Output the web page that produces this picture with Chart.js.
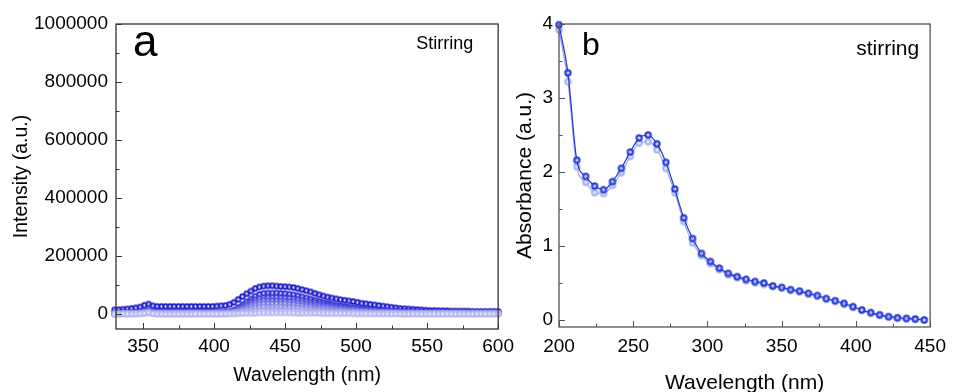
<!DOCTYPE html>
<html>
<head>
<meta charset="utf-8">
<script src="https://cdn.jsdelivr.net/npm/chart.js@4.4.0/dist/chart.umd.min.js"></script>
<style>
    html, body { margin: 0; padding: 0; background: #fff; }
    body { width: 954px; height: 392px; position: relative; overflow: hidden; }
    #chartA { position: absolute; left: 0; top: 0; }
    #chartB { position: absolute; left: 500px; top: 0; }
</style>
</head>
<body>
<canvas id="chartA" width="520" height="392"></canvas>
<canvas id="chartB" width="454" height="400"></canvas>
<script>
// ---- panel a: emission spectra while stirring (intensity in thousands) ----
const wavelengthA = [
    330,333,336,339,342,345,348,351,354,357,
    360,363,366,369,372,375,378,381,384,387,
    390,393,396,399,402,405,408,411,414,417,
    420,423,426,429,432,435,438,441,444,447,
    450,453,456,459,462,465,468,471,474,477,
    480,483,486,489,492,495,498,501,504,507,
    510,513,516,519,522,525,528,531,534,537,
    540,543,546,549,552,555,558,561,564,567,
    570,573,576,579,582,585,588,591,594,597,
    600
];
const INTENSITY_UNIT = 1000;
const intensity1 = [
    14,15,16,17,19,21,24,30,34,28,
    26,26,26,26,26,26,26,26,26,26,
    26,26,26,26,27,28,29,33,40,50,
    60,70,79,88,93,96,97,97,96,95,
    94,93,91,88,84,80,76,71,66,62,
    58,55,52,49,47,45,43,40,37,35,
    33,31,29,27,25,23,21,19,18,17,
    16,15,14,13,12,12,11,11,11,10,
    10,10,10,10,9,9,9,9,9,9,
    9
];
const intensity2 = [
    3,3,4,4,5,5,6,9,11,7,
    5,5,5,5,5,5,5,5,5,5,
    5,5,5,5,5,5,6,8,13,22,
    32,42,52,61,67,71,72,72,72,71,
    70,68,66,63,59,55,51,47,43,39,
    36,33,30,28,26,24,22,20,18,16,
    15,14,13,12,11,10,9,9,8,8,
    7,7,7,6,6,6,6,6,6,5,
    5,5,5,5,5,5,5,5,5,5,
    5
];
const intensity3 = [
    2,2,3,3,4,4,5,7,9,6,
    4,4,4,4,4,4,4,4,4,4,
    4,4,4,4,4,4,5,7,11,18,
    26,34,42,49,54,56,57,57,57,56,
    55,54,52,50,47,44,41,38,35,32,
    29,27,25,23,21,19,18,16,15,13,
    12,11,10,10,9,8,8,7,7,6,
    6,6,5,5,5,5,5,5,4,4,
    4,4,4,4,4,4,4,4,4,4,
    4
];
const intensity4 = [
    2,2,2,3,3,3,4,6,8,5,
    3,3,3,3,3,3,3,3,3,3,
    3,3,3,3,3,3,4,6,9,15,
    21,28,34,40,44,46,46,46,46,45,
    44,43,42,40,38,35,33,30,28,26,
    24,22,20,18,17,16,14,13,12,11,
    10,9,8,8,7,7,6,6,5,5,
    5,5,4,4,4,4,4,4,3,3,
    3,3,3,3,3,3,3,3,3,3,
    3
];
const intensity5 = [
    1,1,2,2,2,3,3,5,7,4,
    2,2,2,2,2,2,2,2,2,2,
    2,2,2,2,2,2,3,5,7,12,
    17,22,27,31,34,36,36,36,36,35,
    35,34,33,31,29,27,25,23,21,20,
    18,17,15,14,13,12,11,10,9,8,
    7,7,6,6,5,5,5,4,4,4,
    4,3,3,3,3,3,3,3,3,3,
    3,3,2,2,2,2,2,2,2,2,
    2
];
const intensity6 = [
    1,1,1,1,2,2,2,4,6,3,
    1,1,1,1,1,1,1,1,1,1,
    1,1,1,1,1,1,2,3,5,8,
    11,15,18,21,23,24,24,24,24,24,
    23,23,22,21,19,18,17,15,14,13,
    12,11,10,9,8,8,7,6,6,5,
    5,4,4,4,3,3,3,3,2,2,
    2,2,2,2,2,2,2,2,2,2,
    2,2,2,2,2,2,2,2,2,2,
    2
];
const intensity7 = [
    0,0,1,1,1,1,2,3,5,2,
    1,1,1,1,1,1,1,1,1,1,
    1,1,1,1,1,1,1,2,3,4,
    6,8,9,11,12,12,12,12,12,12,
    12,11,11,10,10,9,8,8,7,6,
    6,5,5,4,4,4,3,3,3,3,
    2,2,2,2,2,2,2,1,1,1,
    1,1,1,1,1,1,1,1,1,1,
    1,1,1,1,1,1,1,1,1,1,
    1
];
const intensity8 = [
    -1,-1,0,0,0,0,1,2,4,1,
    0,0,0,0,0,0,0,0,0,0,
    0,0,0,0,0,0,0,0,0,1,
    1,2,2,2,3,3,3,3,3,3,
    3,3,3,2,2,2,2,2,2,1,
    1,1,1,1,1,1,1,0,0,0,
    0,0,0,0,0,0,0,0,0,0,
    0,0,0,0,0,0,0,0,0,0,
    0,0,0,0,0,0,0,0,0,0,
    0
];
const intensitySeries = [intensity1, intensity2, intensity3, intensity4,
                         intensity5, intensity6, intensity7, intensity8];
const seriesColorsA = ['#2020cc', '#3030d3', '#4444d9', '#5a5ade',
                       '#7272e3', '#8c8ce8', '#a4a4ed', '#b9b9f2'];
const xTicksA = [350, 400, 450, 500, 550, 600];
const yTicksA = [0, 200000, 400000, 600000, 800000, 1000000];

// ---- panel b: absorbance while stirring ----
const wavelengthB = [
    200,206,212,218,224,230,236,242,248,254,260,266,272,278,284,290,296,
    302,308,314,320,326,332,338,344,350,356,362,368,374,380,386,392,398,
    404,410,416,422,428,434,440,446
];
const absorbanceDark = [
    3.99,3.34,2.16,1.94,1.81,1.76,1.87,2.05,2.27,2.46,2.50,2.38,2.13,1.77,1.38,1.10,0.90,
    0.79,0.70,0.63,0.585,0.55,0.52,0.50,0.46,0.44,0.41,0.39,0.36,0.33,0.29,0.26,0.225,0.18,
    0.135,0.10,0.07,0.045,0.03,0.02,0.013,0.0
];
const absorbanceLight = [
    3.92,3.22,2.07,1.86,1.72,1.71,1.82,1.99,2.21,2.39,2.41,2.30,2.05,1.72,1.33,1.04,0.87,
    0.76,0.68,0.61,0.57,0.53,0.50,0.48,0.45,0.43,0.40,0.38,0.35,0.32,0.28,0.25,0.21,0.17,
    0.13,0.09,0.06,0.04,0.025,0.015,0.01,0.0
];
const xTicksB = [200, 250, 300, 350, 400, 450];
const yTicksB = [0, 1, 2, 3, 4];

const FONT = "'Liberation Sans', Arial, sans-serif";
Chart.defaults.font.family = FONT;
Chart.defaults.color = '#000';

// shaded marker: coloured disc with a small white highlight in the middle
function dotImage(color, r) {
    const c = document.createElement('canvas');
    const s = Math.ceil(r * 2 + 2);
    c.width = s; c.height = s;
    const g = c.getContext('2d');
    const grad = g.createRadialGradient(s / 2, s / 2, 0, s / 2, s / 2, r);
    grad.addColorStop(0, 'rgba(255,255,255,0.95)');
    grad.addColorStop(0.22, 'rgba(255,255,255,0.6)');
    grad.addColorStop(0.5, color);
    grad.addColorStop(1, color);
    g.fillStyle = grad;
    g.beginPath();
    g.arc(s / 2, s / 2, r, 0, Math.PI * 2);
    g.fill();
    return c;
}

function fixedTicks(values) {
    return scale => { scale.ticks = values.map(v => ({ value: v })); };
}

// frame, inward ticks (major + minor) and the panel captions
const boxAndTicks = {
    id: 'boxAndTicks',
    afterDraw(chart, args, opts) {
        const ctx = chart.ctx;
        const area = chart.chartArea;
        const xs = chart.scales.x, ys = chart.scales.y;
        ctx.save();
        ctx.strokeStyle = opts.color;
        ctx.lineWidth = 1.3;
        ctx.strokeRect(area.left, area.top, area.right - area.left, area.bottom - area.top);
        ctx.lineWidth = 1;

        for (let k = Math.ceil(xs.min / opts.xMinor); k * opts.xMinor <= xs.max + 1e-9; k++) {
            const px = Math.round(xs.getPixelForValue(k * opts.xMinor)) + 0.5;
            const len = k % 2 === 0 ? 6 : 3.5;
            ctx.beginPath();
            ctx.moveTo(px, area.bottom);
            ctx.lineTo(px, area.bottom - len);
            ctx.stroke();
        }
        for (let k = Math.ceil(ys.min / opts.yMinor); k * opts.yMinor <= ys.max + 1e-9; k++) {
            const py = Math.round(ys.getPixelForValue(k * opts.yMinor)) + 0.5;
            const len = k % 2 === 0 ? 6 : 3.5;
            ctx.beginPath();
            ctx.moveTo(area.left, py);
            ctx.lineTo(area.left + len, py);
            ctx.stroke();
        }

        ctx.fillStyle = '#000';
        ctx.textBaseline = 'alphabetic';
        ctx.font = opts.letterFont;
        ctx.textAlign = 'left';
        ctx.fillText(opts.letter, area.left + opts.letterDx, area.top + opts.letterDy);
        ctx.font = opts.noteFont;
        ctx.textAlign = 'right';
        ctx.fillText(opts.note, area.right - opts.noteDx, area.top + opts.noteDy);
        ctx.restore();
    }
};

// ---- chart a ----  (light spectra drawn on top of the dark ones)
const datasetsA = intensitySeries.map((vals, i) => ({
    data: wavelengthA.map((w, j) => ({ x: w, y: vals[j] * INTENSITY_UNIT })),
    borderColor: seriesColorsA[i],
    borderWidth: 1.2,
    pointStyle: dotImage(seriesColorsA[i], 3.2),
    pointRadius: 3.3,
    order: intensitySeries.length - i,
    clip: false
}));

new Chart(document.getElementById('chartA'), {
    type: 'line',
    data: { datasets: datasetsA },
    options: {
        responsive: false,
        animation: false,
        layout: { padding: { top: 24, right: 20, left: 0, bottom: 0 } },
        plugins: {
            legend: { display: false },
            tooltip: { enabled: false },
            boxAndTicks: {
                color: '#333', xMinor: 25, yMinor: 100000,
                letter: 'a', letterFont: '44px ' + FONT, letterDx: 17, letterDy: 32,
                note: 'Stirring', noteFont: '18px ' + FONT, noteDx: 25, noteDy: 25
            }
        },
        scales: {
            x: {
                type: 'linear', min: 331, max: 600,
                grid: { display: false, drawTicks: false },
                border: { display: false },
                afterBuildTicks: fixedTicks(xTicksA),
                ticks: { padding: 6, font: { size: 19 }, callback: v => String(v) },
                title: { display: true, text: 'Wavelength (nm)', font: { size: 19.5 },
                         padding: { top: 0, bottom: 4.3 } },
                afterFit: s => { s.height = 63; }
            },
            y: {
                type: 'linear', min: -52000, max: 1000000,
                grid: { display: false, drawTicks: false },
                border: { display: false },
                afterBuildTicks: fixedTicks(yTicksA),
                ticks: { padding: 8, font: { size: 19 }, callback: v => String(v) },
                title: { display: true, text: 'Intensity (a.u.)', font: { size: 19.5 },
                         padding: { top: 10.3, bottom: 0 } },
                afterFit: s => { s.width = 116; }
            }
        }
    },
    plugins: [boxAndTicks]
});

// ---- chart b ----
new Chart(document.getElementById('chartB'), {
    type: 'line',
    data: {
        datasets: [
            {
                data: wavelengthB.map((w, j) => ({ x: w, y: absorbanceDark[j] })),
                borderColor: '#1f2fd6',
                borderWidth: 1.2,
                pointStyle: dotImage('#2a3fda', 3.7),
                pointRadius: 4,
                cubicInterpolationMode: 'monotone',
                clip: false
            },
            {
                data: wavelengthB.map((w, j) => ({ x: w, y: absorbanceLight[j] })),
                borderColor: '#93a2ee',
                borderWidth: 1.1,
                pointStyle: dotImage('#a6b3f2', 3.7),
                pointRadius: 4,
                cubicInterpolationMode: 'monotone',
                clip: false
            }
        ]
    },
    options: {
        responsive: false,
        animation: false,
        layout: { padding: { top: 24, right: 20, left: 0, bottom: 0 } },
        plugins: {
            legend: { display: false },
            tooltip: { enabled: false },
            boxAndTicks: {
                color: '#555', xMinor: 25, yMinor: 0.5,
                letter: 'b', letterFont: '32px ' + FONT, letterDx: 23, letterDy: 31,
                note: 'stirring', noteFont: '21px ' + FONT, noteDx: 11, noteDy: 31
            }
        },
        scales: {
            x: {
                type: 'linear', min: 200, max: 450,
                grid: { display: false, drawTicks: false },
                border: { display: false },
                afterBuildTicks: fixedTicks(xTicksB),
                ticks: { padding: 8, font: { size: 19 }, callback: v => String(v) },
                title: { display: true, text: 'Wavelength (nm)', font: { size: 21 },
                         padding: { top: 0, bottom: 4.4 } },
                afterFit: s => { s.height = 73; }
            },
            y: {
                type: 'linear', min: -0.095, max: 4,
                grid: { display: false, drawTicks: false },
                border: { display: false },
                afterBuildTicks: fixedTicks(yTicksB),
                ticks: { padding: 6, font: { size: 19 }, callback: v => String(v) },
                title: { display: true, text: 'Absorbance (a.u.)', font: { size: 21 },
                         padding: { top: 12.4, bottom: 0 } },
                afterFit: s => { s.width = 59; }
            }
        }
    },
    plugins: [boxAndTicks]
});
</script>
</body>
</html>
